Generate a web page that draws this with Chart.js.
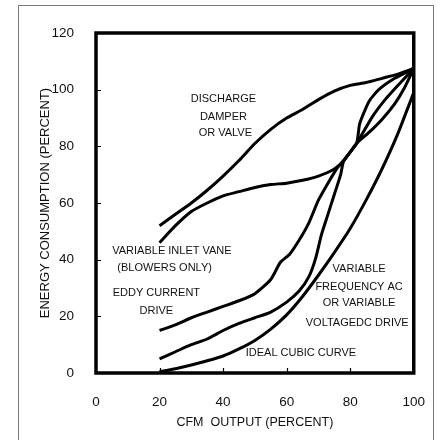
<!DOCTYPE html>
<html>
<head>
<meta charset="utf-8">
<script src="https://cdn.jsdelivr.net/npm/chart.js@4/dist/chart.umd.min.js"></script>
<style>
  body { margin: 0; background: #fff; }
  #wrap { width: 438px; height: 440px; }
</style>
</head>
<body>
<div id="wrap"><canvas id="myChart" width="438" height="440"></canvas></div>
<script>
// values (CFM % -> energy %)
const damperCfm = [20, 25, 30, 35, 40, 45, 50, 55, 60, 65, 70, 75, 80, 85, 90, 95, 100];
const damperPower = [52, 56, 60, 64.5, 69.5, 75, 81, 86, 90, 93, 96.5, 99.5, 101.5, 102.5, 104, 105.5, 107.5];

const vaneCfm = [20, 25, 30, 35, 40, 45, 50, 55, 60, 65, 70, 75, 78, 82, 86, 90, 94, 97, 100];
const vanePower = [46, 52, 57, 60, 62.5, 64, 65.5, 66.5, 67, 68, 69.5, 72, 75, 81, 85, 89.5, 95, 100.5, 107.5];

const eddyCfm = [20, 25, 30, 35, 40, 45, 50, 55, 58, 61, 64, 67, 70, 73, 76, 78, 82, 87, 91, 95, 100];
const eddyPower = [15, 17, 19.5, 21.5, 23.5, 25.5, 28, 33, 39, 42, 47, 53, 61, 67, 72.5, 75, 81, 90.5, 96.5, 101.5, 107.5];

const vfdCfm = [20, 25, 30, 35, 40, 45, 50, 55, 60, 64, 67, 69, 71, 73, 75, 77, 78, 82, 83, 86, 89, 94, 100];
const vfdPower = [5, 7.5, 10, 12, 15, 17.5, 19.5, 21.5, 25, 29, 34, 40, 49, 56, 63, 70, 75, 81, 88, 96, 100, 104, 107.5];

const cubicCfm = [20, 25, 30, 35, 40, 45, 50, 55, 60, 65, 70, 75, 80, 85, 90, 95, 100];
const cubicPower = [0.5, 1.5, 2.8, 4.3, 6, 8.5, 11.5, 15.5, 20.5, 27, 34.5, 42.5, 51, 61, 72, 84.5, 99];

const xTicks = [0, 20, 40, 60, 80, 100];
const yTicks = [0, 20, 40, 60, 80, 100, 120];

// text written inside the plot, placed in data units
const notes = [
  { text: "DISCHARGE", x: 40.1, y: 96.6 },
  { text: "DAMPER", x: 40.1, y: 90.5 },
  { text: "OR VALVE", x: 40.7, y: 84.6 },
  { text: "VARIABLE INLET VANE", x: 23.9, y: 43.2 },
  { text: "(BLOWERS ONLY)", x: 21.6, y: 37.2 },
  { text: "EDDY CURRENT", x: 19, y: 28.1 },
  { text: "DRIVE", x: 19, y: 21.9 },
  { text: "VARIABLE", x: 82.8, y: 36.6 },
  { text: "FREQUENCY AC", x: 82.8, y: 30.5 },
  { text: "OR VARIABLE", x: 82.8, y: 24.6 },
  { text: "VOLTAGEDC DRIVE", x: 82.2, y: 17.8 },
  { text: "IDEAL CUBIC CURVE", x: 64.5, y: 7.2 }
];

function toPoints(xs, ys) {
  return xs.map((x, i) => ({ x: x, y: ys[i] }));
}

function lineSet(label, xs, ys) {
  return {
    label: label,
    data: toPoints(xs, ys),
    borderColor: "#000",
    borderWidth: 3,
    pointRadius: 0,
    tension: 0.2,
    fill: false
  };
}

const framePlugin = {
  id: "frame",
  beforeDraw(chart) {
    const ctx = chart.ctx;
    ctx.save();
    ctx.fillStyle = "#fff";
    ctx.fillRect(0, 0, chart.width, chart.height);
    ctx.strokeStyle = "#7a7a7a";
    ctx.lineWidth = 1;
    ctx.strokeRect(18.5, 5.5, 415, 450);
    ctx.restore();
  },
  afterDatasetsDraw(chart) {
    const ctx = chart.ctx;
    const area = chart.chartArea;
    const xs = chart.scales.x;
    const ys = chart.scales.y;
    ctx.save();
    ctx.fillStyle = "#111";
    ctx.font = "11px 'Liberation Sans', Arial, sans-serif";
    ctx.textAlign = "center";
    ctx.textBaseline = "middle";
    notes.forEach(n => {
      ctx.fillText(n.text, xs.getPixelForValue(n.x), ys.getPixelForValue(n.y));
    });

    // plot box
    ctx.strokeStyle = "#000";
    ctx.lineWidth = 3.5;
    ctx.strokeRect(area.left, area.top, area.right - area.left, area.bottom - area.top);

    // small inward ticks
    ctx.lineWidth = 1.2;
    ctx.beginPath();
    xTicks.slice(1, -1).forEach(v => {
      const px = Math.round(xs.getPixelForValue(v)) + 0.5;
      ctx.moveTo(px, area.bottom);
      ctx.lineTo(px, area.bottom - 5);
    });
    yTicks.slice(1, -1).forEach(v => {
      const py = Math.round(ys.getPixelForValue(v)) + 0.5;
      ctx.moveTo(area.left, py);
      ctx.lineTo(area.left + 5, py);
    });
    ctx.stroke();
    ctx.restore();
  }
};

new Chart("myChart", {
  type: "line",
  data: {
    datasets: [
      lineSet("Discharge damper or valve", damperCfm, damperPower),
      lineSet("Variable inlet vane", vaneCfm, vanePower),
      lineSet("Eddy current drive", eddyCfm, eddyPower),
      lineSet("Variable frequency AC or variable voltage DC drive", vfdCfm, vfdPower),
      lineSet("Ideal cubic curve", cubicCfm, cubicPower)
    ]
  },
  options: {
    responsive: false,
    animation: false,
    layout: { padding: { left: 0, top: 33, right: 23, bottom: 0 } },
    plugins: {
      legend: { display: false },
      tooltip: { enabled: false }
    },
    scales: {
      x: {
        type: "linear",
        min: 0,
        max: 100,
        afterFit: s => { s.height = 67; },
        afterBuildTicks: s => { s.ticks = xTicks.map(v => ({ value: v })); },
        grid: { display: false },
        border: { display: false },
        ticks: {
          padding: 13,
          color: "#111",
          font: { family: "'Liberation Sans', Arial, sans-serif", size: 13.5 }
        },
        title: {
          display: true,
          text: "CFM  OUTPUT (PERCENT)",
          color: "#111",
          padding: { bottom: 10 },
          font: { family: "'Liberation Sans', Arial, sans-serif", size: 12.5 }
        }
      },
      y: {
        min: 0,
        max: 120,
        afterFit: s => { s.width = 96; },
        afterBuildTicks: s => { s.ticks = yTicks.map(v => ({ value: v })); },
        grid: { display: false },
        border: { display: false },
        ticks: {
          padding: 14,
          color: "#111",
          font: { family: "'Liberation Sans', Arial, sans-serif", size: 13.5 }
        },
        title: {
          display: true,
          text: "ENERGY CONSUMPTION (PERCENT)",
          color: "#111",
          padding: { top: 38 },
          font: { family: "'Liberation Sans', Arial, sans-serif", size: 13 }
        }
      }
    }
  },
  plugins: [framePlugin]
});
</script>
</body>
</html>
